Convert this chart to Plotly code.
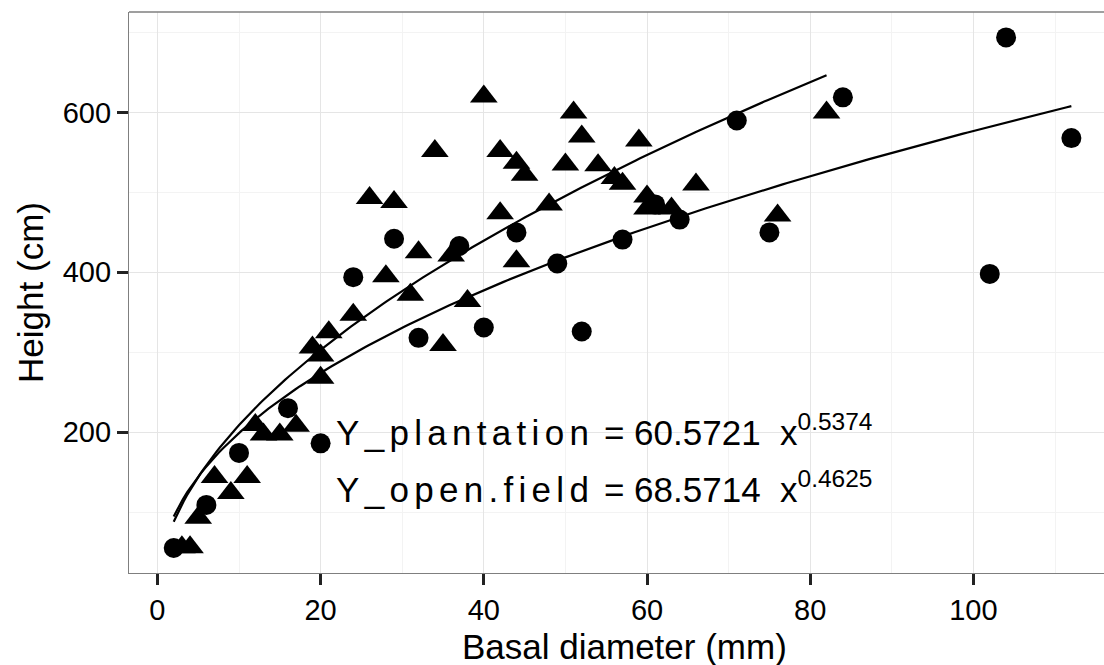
import numpy as np
import plotly.graph_objects as go

# ---- data ----
plant_x = [3, 4, 5, 7, 9, 11, 12, 13, 15, 17, 19, 20, 20, 21, 24, 26, 28, 29, 31, 32, 34, 35,
           36, 38, 40, 42, 42, 44, 44, 45, 48, 50, 51, 52, 54, 56, 57, 59, 60, 60, 63, 66, 76, 82]
plant_y = [56, 56, 93, 144, 124, 144, 209, 197, 197, 208, 306, 296, 268, 325, 347, 493, 395, 488,
           372, 425, 552, 309, 421, 364, 620, 552, 474, 537, 414, 522, 485, 535, 600, 570, 534,
           518, 511, 565, 495, 480, 480, 510, 471, 600]

open_x = [2, 6, 10, 16, 20, 24, 29, 32, 37, 40, 44, 49, 52, 57, 61, 64, 71, 75, 84, 102, 104, 112]
open_y = [55, 109, 174, 230, 186, 394, 442, 318, 433, 331, 450, 411, 326, 441, 485, 466, 590,
          450, 619, 398, 694, 568]

# fitted power models shown in the chart: Y = a * x^b
plant_a, plant_b = 60.5721, 0.5374
open_a, open_b = 68.5714, 0.4625

x_ticks = [0, 20, 40, 60, 80, 100]
y_ticks = [200, 400, 600]

FONT = "Liberation Sans, Arial, sans-serif"

fig = go.Figure()

xp = np.linspace(min(plant_x + open_x), max(plant_x), 200)
xo = np.linspace(min(plant_x + open_x), max(open_x), 200)
fig.add_trace(go.Scatter(x=xp, y=plant_a * xp ** plant_b, mode="lines",
                         line=dict(color="black", width=2.2), showlegend=False))
fig.add_trace(go.Scatter(x=xo, y=open_a * xo ** open_b, mode="lines",
                         line=dict(color="black", width=2.2), showlegend=False))

fig.add_trace(go.Scatter(x=plant_x, y=plant_y, mode="markers", name="plantation",
                         marker=dict(symbol="triangle-up", size=24, color="black",
                                     line=dict(width=0)), showlegend=False))
fig.add_trace(go.Scatter(x=open_x, y=open_y, mode="markers", name="open.field",
                         marker=dict(symbol="circle", size=20, color="black",
                                     line=dict(width=0)), showlegend=False))

eq_font = dict(family=FONT, size=35, color="black")
sp = "letter-spacing:5.3px"
fig.add_annotation(xref="x", yref="y", x=21.6, y=203, xanchor="left", yanchor="middle",
                   showarrow=False, font=eq_font,
                   text=f"<span style='{sp}'>Y_plantation</span> = 60.5721  x<sup>{plant_b}</sup>")
fig.add_annotation(xref="x", yref="y", x=21.6, y=132, xanchor="left", yanchor="middle",
                   showarrow=False, font=eq_font,
                   text=f"<span style='{sp}'>Y_open.field</span> = 68.5714  x<sup>{open_b}</sup>")

# x-axis title (centred on the full ggplot panel, whose right part is cropped)
fig.add_annotation(xref="paper", yref="paper", x=0.5077, y=-0.1305, xanchor="center",
                   yanchor="middle", showarrow=False, text="Basal diameter (mm)",
                   font=dict(family=FONT, size=35, color="black"))

fig.add_shape(type="line", xref="paper", yref="paper", x0=0, x1=1, y0=1, y1=1,
              line=dict(color="#7f7f7f", width=1.3))

fig.update_layout(
    width=1104, height=665,
    margin=dict(l=129, r=0, t=12, b=92),
    paper_bgcolor="white", plot_bgcolor="white",
    font=dict(family=FONT, color="black"),
    xaxis=dict(range=[-3.48, 116.0], tickvals=x_ticks, ticks="outside", ticklen=11,
               tickwidth=2.5, tickcolor="#222222", tickfont=dict(size=29, color="black"),
               showline=True, linecolor="#7f7f7f", linewidth=1.3, mirror=False,
               showgrid=True, gridcolor="#e5e5e5", gridwidth=1.4, zeroline=False,
               automargin=False,
               minor=dict(dtick=10, tick0=0, showgrid=True, gridcolor="#f3f3f3", gridwidth=1, ticks="")),
    yaxis=dict(range=[23.75, 725.8], tickvals=y_ticks, ticks="outside", ticklen=11,
               tickwidth=2.5, tickcolor="#222222", tickfont=dict(size=29, color="black"),
               showline=True, linecolor="#7f7f7f", linewidth=1.3, mirror=False,
               showgrid=True, gridcolor="#e5e5e5", gridwidth=1.4, zeroline=False,
               automargin=False,
               minor=dict(dtick=100, tick0=0, showgrid=True, gridcolor="#f3f3f3", gridwidth=1, ticks=""),
               title=dict(text="Height (cm)", font=dict(size=35), standoff=8)),
)

fig.write_html("out.html", config={"displayModeBar": False},
               post_script="document.body.style.margin='0';")
